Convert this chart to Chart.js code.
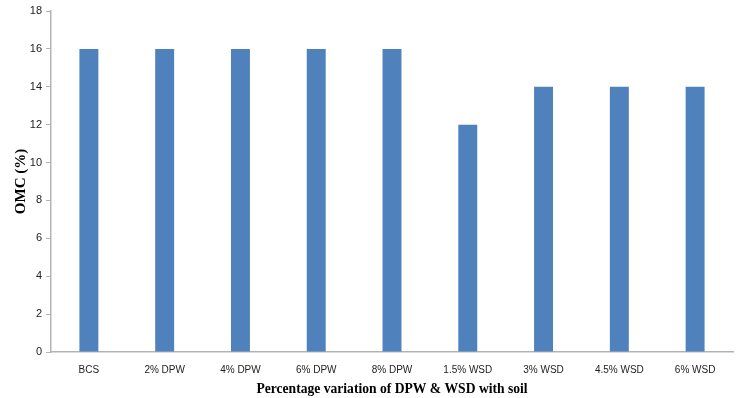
<!DOCTYPE html>
<html>
<head>
<meta charset="utf-8">
<script src="https://cdn.jsdelivr.net/npm/chart.js@4/dist/chart.umd.min.js"></script>
<style>
  html, body { margin: 0; padding: 0; background: #fff; }
  #wrap { width: 739px; height: 398px; position: relative; }
</style>
</head>
<body>
<div id="wrap"><canvas id="c" width="739" height="398"></canvas></div>
<script>
// Mix designations and their optimum moisture content
const categories = ["BCS", "2% DPW", "4% DPW", "6% DPW", "8% DPW", "1.5% WSD", "3% WSD", "4.5% WSD", "6% WSD"];
const omcValues = [16, 16, 16, 16, 16, 12, 14, 14, 14];
const yTicks = [0, 2, 4, 6, 8, 10, 12, 14, 16, 18];

const axisGrey = "#b3b3b3";

new Chart(document.getElementById("c"), {
  type: "bar",
  data: {
    labels: categories,
    datasets: [{
      data: omcValues,
      backgroundColor: "#4f81bd",
      borderWidth: 0,
      barPercentage: 0.25,
      categoryPercentage: 1.0
    }]
  },
  options: {
    responsive: false,
    animation: false,
    devicePixelRatio: 1,
    layout: { padding: { left: 0, right: 6, top: 11, bottom: 0 } },
    plugins: { legend: { display: false }, tooltip: { enabled: false } },
    scales: {
      x: {
        grid: { display: false, drawTicks: false },
        border: { color: axisGrey, width: 1.5 },
        ticks: { color: "#222", font: { family: "Liberation Sans", size: 10 }, padding: 12, maxRotation: 0 },
        title: {
          display: true,
          text: "Percentage variation of DPW & WSD with soil",
          color: "#000",
          font: { family: "Liberation Serif", size: 13.6, weight: "bold" },
          padding: { top: 2, bottom: 0 }
        },
        afterFit(scale) { scale.height = 46; }
      },
      y: {
        min: 0,
        max: 18,
        afterBuildTicks(scale) { scale.ticks = yTicks.map(v => ({ value: v })); },
        grid: { drawOnChartArea: false, drawTicks: true, tickLength: 5, color: axisGrey },
        border: { color: axisGrey, width: 1.5 },
        ticks: { color: "#222", font: { family: "Liberation Sans", size: 11 }, padding: 4 },
        title: {
          display: true,
          text: "OMC (%)",
          color: "#000",
          font: { family: "Liberation Serif", size: 15, weight: "bold" },
          padding: { top: 12, bottom: 4 }
        },
        afterFit(scale) { scale.width = 51; }
      }
    }
  }
});
</script>
</body>
</html>
